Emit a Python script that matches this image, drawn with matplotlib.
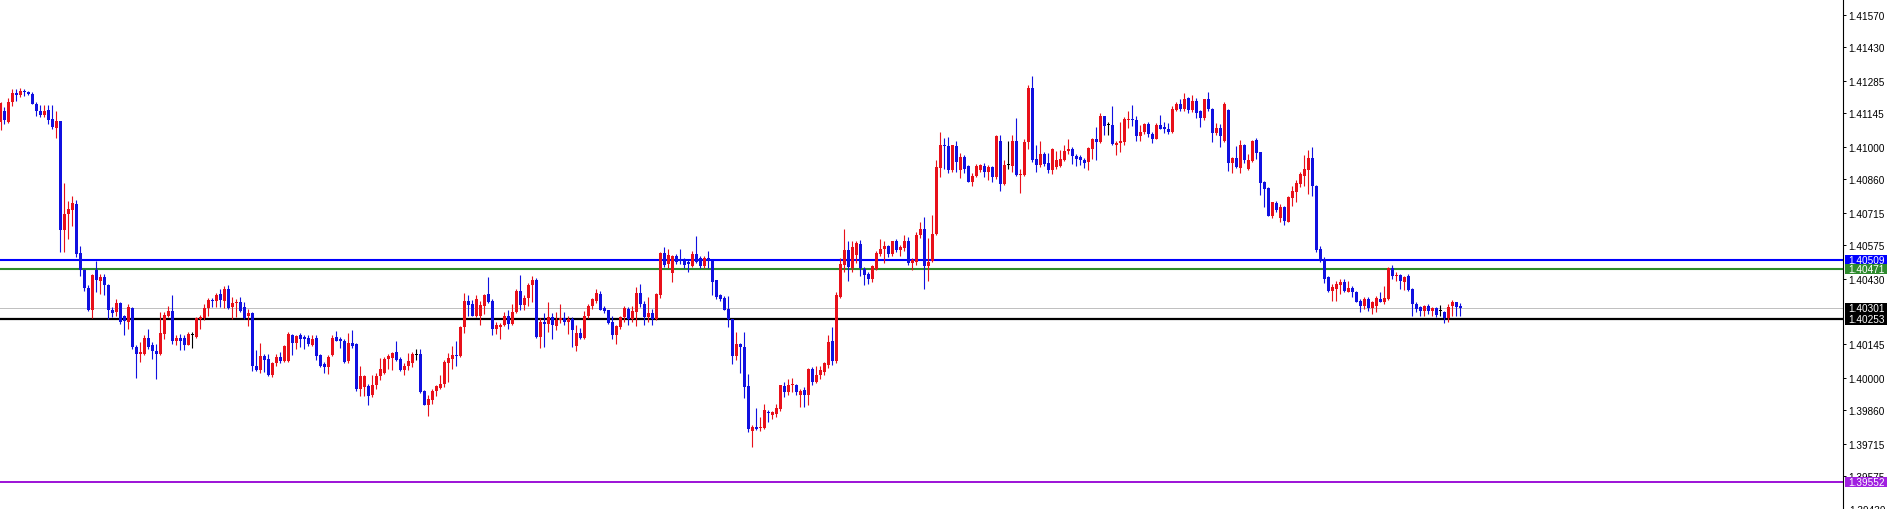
import numpy as np
import matplotlib
matplotlib.use("Agg")
import matplotlib.pyplot as plt
from matplotlib.patches import Rectangle
from matplotlib.transforms import blended_transform_factory

plt.rcParams['font.family'] = ['Liberation Sans', 'DejaVu Sans']

# candles, prices in points (1e-5)
opens_pts = [
    141106, 141156, 141108, 141192, 141232, 141221, 141240, 141235, 141228, 141185,
    141156, 141137, 141159, 141120, 141080, 141110, 140638, 140707, 140728, 140753,
    140541, 140465, 140388, 140292, 140465, 140419, 140436, 140403, 140296, 140285,
    140324, 140270, 140242, 140304, 140134, 140102, 140105, 140172, 140141, 140116,
    140105, 140191, 140270, 140289, 140158, 140174, 140174, 140144, 140184, 140177,
    140253, 140259, 140302, 140339, 140332, 140361, 140335, 140386, 140306, 140324,
    140328, 140306, 140268, 140280, 140054, 140033, 140095, 140083, 140011, 140064,
    140090, 140072, 140072, 140187, 140152, 140187, 140177, 140172, 140144, 140172,
    140098, 140059, 140047, 140100, 140177, 140167, 140162, 140072, 140152, 140148,
    139954, 139961, 139965, 139925, 139971, 140008, 140023, 140083, 140086, 140112,
    140083, 140033, 140052, 140066, 140100, 140105, 139946, 139884, 139903, 139942,
    139958, 139975, 140066, 140083, 140100, 140095, 140220, 140335, 140321, 140270,
    140270, 140311, 140364, 140331, 140213, 140221, 140230, 140270, 140234, 140285,
    140374, 140314, 140345, 140400, 140422, 140177, 140244, 140234, 140263, 140224,
    140249, 140259, 140242, 140256, 140137, 140196, 140173, 140268, 140311, 140331,
    140364, 140302, 140292, 140242, 140184, 140221, 140263, 140299, 140256, 140285,
    140368, 140321, 140263, 140282, 140256, 140360, 140541, 140494, 140455, 140527,
    140515, 140504, 140501, 140484, 140537, 140518, 140484, 140518, 140504, 140422,
    140357, 140345, 140299, 140253, 140095, 140148, 140133, 139965, 139773, 139788,
    139783, 139783, 139855, 139841, 139845, 139867, 139965, 139939, 139968, 139971,
    139927, 139950, 139927, 140040, 139985, 140014, 140025, 140057, 140162, 140072,
    140350, 140489, 140555, 140475, 140532, 140580, 140472, 140450, 140429, 140472,
    140537, 140558, 140570, 140537, 140590, 140555, 140561, 140590, 140498, 140501,
    140616, 140645, 140483, 140504, 140623, 140907, 141008, 141002, 140897, 141002,
    140897, 140954, 140915, 140849, 140872, 140897, 140918, 140892, 140911, 140868,
    141026, 140839, 140921, 140918, 141026, 140878, 140878, 141022, 141254, 140947,
    140921, 140969, 140930, 140901, 140911, 140915, 140944, 140979, 140990, 140959,
    140954, 140944, 140933, 140990, 141031, 141019, 141131, 141094, 141094, 141008,
    141016, 141022, 141113, 141120, 141117, 141045, 141062, 141098, 141055, 141034,
    141094, 141084, 141077, 141065, 141160, 141185, 141163, 141209, 141160, 141199,
    141152, 141123, 141206, 141163, 141060, 141080, 141026, 141160, 140929, 140949,
    140906, 141007, 140903, 140939, 141030, 140975, 140846, 140820, 140702, 140756,
    140690, 140738, 140676, 140777, 140805, 140838, 140874, 140900, 140949, 140831,
    140558, 140514, 140435, 140378, 140385, 140402, 140417, 140373, 140388, 140373,
    140334, 140310, 140342, 140301, 140313, 140342, 140330, 140342, 140474, 140440,
    140445, 140417, 140440, 140385, 140320, 140306, 140291, 140313, 140291, 140301,
    140291, 140284, 140258, 140313, 140327, 140313,
]
highs_pts = [
    141192, 141170, 141209, 141247, 141247, 141252, 141250, 141242, 141235, 141192,
    141178, 141178, 141180, 141178, 141153, 141112, 140844, 140763, 140786, 140771,
    140570, 140472, 140400, 140450, 140504, 140450, 140450, 140405, 140306, 140342,
    140328, 140273, 140321, 140309, 140144, 140155, 140184, 140213, 140155, 140148,
    140285, 140285, 140311, 140357, 140187, 140190, 140188, 140198, 140198, 140263,
    140273, 140321, 140345, 140345, 140368, 140383, 140397, 140400, 140350, 140342,
    140350, 140328, 140299, 140285, 140119, 140152, 140105, 140105, 140069, 140105,
    140112, 140141, 140198, 140191, 140184, 140196, 140187, 140187, 140187, 140187,
    140105, 140069, 140100, 140184, 140203, 140177, 140170, 140196, 140206, 140152,
    140052, 140014, 139975, 140011, 140023, 140086, 140090, 140105, 140112, 140158,
    140090, 140066, 140109, 140112, 140124, 140124, 139948, 139928, 139951, 139971,
    140011, 140076, 140109, 140138, 140162, 140224, 140368, 140360, 140339, 140360,
    140331, 140364, 140436, 140340, 140242, 140239, 140285, 140292, 140321, 140383,
    140446, 140360, 140412, 140440, 140432, 140259, 140282, 140328, 140282, 140285,
    140321, 140285, 140268, 140263, 140227, 140216, 140288, 140321, 140345, 140383,
    140374, 140311, 140296, 140270, 140230, 140270, 140311, 140306, 140311, 140393,
    140407, 140331, 140350, 140299, 140368, 140544, 140566, 140556, 140530, 140537,
    140556, 140518, 140508, 140547, 140613, 140527, 140527, 140547, 140508, 140422,
    140364, 140354, 140354, 140256, 140198, 140152, 140198, 140018, 139795, 139870,
    139831, 139889, 139860, 139856, 139889, 139971, 139982, 139994, 140000, 139975,
    139953, 139960, 140043, 140047, 140054, 140051, 140071, 140187, 140220, 140371,
    140518, 140645, 140590, 140590, 140590, 140598, 140479, 140457, 140489, 140547,
    140601, 140590, 140575, 140594, 140601, 140573, 140616, 140609, 140518, 140633,
    140676, 140695, 140604, 140705, 140940, 141065, 141036, 141041, 141008, 141026,
    140973, 140964, 140921, 140887, 140925, 140926, 140930, 140921, 140918, 141048,
    141048, 140944, 141026, 141048, 141123, 140904, 141034, 141267, 141304, 141005,
    141026, 140976, 140973, 140993, 140983, 140987, 141005, 141034, 140998, 140969,
    140964, 140950, 140998, 141036, 141084, 141146, 141134, 141106, 141175, 141026,
    141106, 141127, 141156, 141180, 141134, 141094, 141103, 141108, 141065, 141103,
    141137, 141108, 141103, 141175, 141192, 141204, 141232, 141214, 141224, 141209,
    141160, 141206, 141238, 141166, 141103, 141098, 141192, 141162, 140954, 141004,
    141030, 141011, 140968, 141030, 141036, 140978, 140853, 140824, 140762, 140766,
    140752, 140742, 140788, 140831, 140857, 140889, 140964, 140987, 140997, 140834,
    140572, 140522, 140442, 140406, 140421, 140428, 140428, 140421, 140399, 140378,
    140342, 140349, 140349, 140334, 140356, 140373, 140399, 140478, 140488, 140457,
    140450, 140442, 140450, 140388, 140327, 140313, 140316, 140320, 140306, 140306,
    140316, 140291, 140320, 140339, 140330, 140324,
]
lows_pts = [
    141070, 141098, 141104, 141175, 141199, 141214, 141218, 141221, 141183, 141134,
    141127, 141127, 141098, 141077, 141036, 140544, 140544, 140599, 140659, 140522,
    140440, 140374, 140288, 140259, 140371, 140364, 140357, 140253, 140263, 140268,
    140234, 140187, 140213, 140126, 140000, 140069, 140100, 140126, 140083, 139997,
    140100, 140170, 140263, 140148, 140141, 140119, 140122, 140141, 140129, 140173,
    140213, 140249, 140270, 140306, 140306, 140309, 140302, 140299, 140253, 140263,
    140285, 140253, 140224, 140029, 140029, 140023, 140026, 140008, 140004, 140054,
    140066, 140069, 140069, 140100, 140124, 140134, 140126, 140138, 140138, 140080,
    140047, 140023, 140018, 140095, 140158, 140129, 140066, 140066, 140129, 139946,
    139922, 139922, 139884, 139918, 139951, 139990, 140018, 140037, 140033, 140072,
    140029, 140014, 140033, 140047, 140076, 139936, 139882, 139838, 139889, 139922,
    139954, 139961, 139982, 140040, 140054, 140092, 140196, 140268, 140268, 140263,
    140227, 140278, 140325, 140184, 140191, 140167, 140224, 140210, 140227, 140282,
    140292, 140292, 140311, 140328, 140174, 140129, 140134, 140201, 140170, 140206,
    140239, 140227, 140191, 140134, 140115, 140167, 140170, 140259, 140299, 140325,
    140292, 140282, 140234, 140167, 140148, 140213, 140242, 140230, 140242, 140224,
    140306, 140230, 140242, 140227, 140249, 140345, 140479, 140475, 140414, 140494,
    140494, 140475, 140460, 140479, 140498, 140475, 140475, 140475, 140357, 140342,
    140335, 140292, 140220, 140062, 140076, 140022, 139913, 139766, 139701, 139775,
    139773, 139781, 139812, 139821, 139831, 139856, 139917, 139925, 139939, 139927,
    139874, 139874, 139884, 139971, 139979, 139997, 140014, 140043, 140057, 140066,
    140345, 140457, 140421, 140457, 140498, 140440, 140403, 140407, 140417, 140465,
    140529, 140498, 140522, 140529, 140544, 140529, 140551, 140489, 140465, 140489,
    140604, 140385, 140421, 140501, 140616, 140868, 140904, 140887, 140892, 140892,
    140863, 140887, 140846, 140829, 140868, 140890, 140868, 140854, 140849, 140861,
    140810, 140832, 140904, 140890, 140875, 140800, 140872, 140990, 140933, 140892,
    140911, 140918, 140887, 140882, 140904, 140911, 140936, 140969, 140926, 140916,
    140921, 140907, 140901, 140947, 140940, 141016, 141051, 141048, 141008, 140962,
    140976, 141005, 141080, 141088, 141026, 141026, 141055, 141041, 141016, 141031,
    141074, 141060, 141055, 141060, 141152, 141152, 141156, 141146, 141149, 141123,
    141084, 141117, 141156, 141022, 141048, 141000, 141022, 140896, 140886, 140906,
    140886, 140929, 140900, 140932, 140946, 140791, 140738, 140699, 140690, 140719,
    140673, 140661, 140673, 140745, 140759, 140824, 140831, 140795, 140785, 140543,
    140503, 140411, 140370, 140334, 140334, 140363, 140370, 140370, 140349, 140327,
    140284, 140298, 140291, 140277, 140287, 140327, 140320, 140339, 140428, 140421,
    140385, 140382, 140378, 140270, 140284, 140267, 140270, 140277, 140270, 140263,
    140270, 140238, 140244, 140267, 140267, 140267,
]
closes_pts = [
    141188, 141113, 141192, 141231, 141221, 141240, 141235, 141228, 141185, 141152,
    141137, 141156, 141116, 141084, 141110, 140640, 140710, 140731, 140757, 140537,
    140465, 140388, 140292, 140446, 140422, 140436, 140400, 140292, 140282, 140324,
    140242, 140246, 140306, 140134, 140105, 140112, 140172, 140136, 140115, 140105,
    140196, 140273, 140289, 140158, 140175, 140162, 140144, 140190, 140184, 140259,
    140263, 140302, 140339, 140332, 140357, 140338, 140386, 140302, 140324, 140328,
    140288, 140259, 140280, 140050, 140033, 140095, 140080, 140011, 140066, 140090,
    140072, 140138, 140191, 140152, 140181, 140170, 140167, 140148, 140167, 140095,
    140054, 140047, 140090, 140172, 140162, 140158, 140069, 140152, 140138, 139951,
    140008, 140008, 139922, 139971, 140008, 140037, 140083, 140095, 140109, 140080,
    140033, 140054, 140072, 140105, 140100, 139939, 139884, 139908, 139942, 139965,
    139975, 140069, 140086, 140100, 140095, 140220, 140332, 140316, 140270, 140342,
    140314, 140360, 140328, 140213, 140227, 140230, 140270, 140234, 140285, 140374,
    140314, 140345, 140403, 140422, 140177, 140244, 140234, 140263, 140230, 140249,
    140259, 140244, 140256, 140206, 140196, 140173, 140268, 140311, 140340, 140368,
    140296, 140288, 140239, 140184, 140224, 140263, 140302, 140256, 140288, 140368,
    140321, 140263, 140282, 140256, 140364, 140541, 140489, 140532, 140527, 140501,
    140504, 140489, 140494, 140537, 140501, 140484, 140518, 140508, 140417, 140350,
    140340, 140296, 140256, 140095, 140148, 140133, 139961, 139778, 139788, 139778,
    139788, 139864, 139850, 139853, 139870, 139968, 139939, 139971, 139975, 139939,
    139946, 139927, 140037, 139985, 140014, 140033, 140066, 140155, 140072, 140357,
    140493, 140555, 140479, 140565, 140584, 140475, 140446, 140426, 140483, 140541,
    140558, 140570, 140537, 140590, 140555, 140565, 140590, 140498, 140508, 140619,
    140645, 140486, 140501, 140623, 140911, 141008, 141002, 140901, 141005, 140933,
    140954, 140904, 140849, 140875, 140915, 140921, 140892, 140911, 140868, 141045,
    140839, 140921, 140921, 141026, 140878, 140882, 141022, 141254, 140944, 140921,
    140969, 140926, 140901, 140990, 140944, 140947, 140983, 140990, 140959, 140947,
    140940, 140930, 140993, 141034, 141022, 141134, 141091, 141094, 141012, 141016,
    141026, 141120, 141120, 141113, 141045, 141065, 141098, 141055, 141034, 141094,
    141077, 141074, 141062, 141163, 141185, 141163, 141206, 141160, 141199, 141146,
    141123, 141204, 141163, 141060, 141080, 141045, 141185, 140929, 140949, 140910,
    141007, 140944, 140944, 141026, 140972, 140843, 140817, 140702, 140759, 140728,
    140738, 140680, 140781, 140810, 140843, 140882, 140903, 140949, 140828, 140555,
    140507, 140428, 140378, 140392, 140406, 140417, 140378, 140388, 140370, 140330,
    140313, 140342, 140301, 140330, 140344, 140330, 140344, 140474, 140440, 140445,
    140421, 140435, 140382, 140320, 140298, 140291, 140313, 140291, 140301, 140273,
    140291, 140258, 140306, 140330, 140306, 140301,
]

tick_prices = [1.41570, 1.41430, 1.41285, 1.41145, 1.41000, 1.40860, 1.40715,
               1.40575, 1.40430, 1.40145, 1.40000, 1.39860, 1.39715, 1.39575]
bottom_tick = 1.39430

level_prices = [1.40509, 1.40471, 1.40301, 1.40253, 1.39552]
level_colors = ["#0000ff", "#2e8b2e", "#c0c0c0", "#000000", "#9400d3"]
level_lw = [1.5, 1.5, 0.72, 1.6, 1.3]
label_bg = ["#0000ff", "#2e8b2e", "#000000", "#000000", "#a020e0"]

o = np.array(opens_pts) / 1e5
h = np.array(highs_pts) / 1e5
l = np.array(lows_pts) / 1e5
c = np.array(closes_pts) / 1e5
x = np.arange(len(o))

up_col = "#e8101a"
dn_col = "#1010e0"
cols = np.where(c > o, up_col, np.where(c < o, dn_col, "#000000"))

W, H = 1890, 510
plot_w = 1843
fig = plt.figure(figsize=(W / 100, H / 100), dpi=100)
ax = fig.add_axes([0, 0, plot_w / W, 1])
ax.set_xlim(-0.125, plot_w / 4 - 0.125)
y_top, y_bot = 1.416378, 1.394341
ax.set_ylim(y_bot, y_top)
px = (y_top - y_bot) / H  # price per pixel

# levels
for p, col, lw in zip(level_prices, level_colors, level_lw):
    ax.axhline(p, color=col, lw=lw, zorder=1)

# wicks and bodies
ax.vlines(x, l, h, colors=cols, lw=0.8, zorder=2)
body = np.maximum(np.abs(c - o), px)
ax.bar(x, body, bottom=np.minimum(o, c), width=0.75, color=cols, lw=0, zorder=3)

# axis on the right
for s in ["left", "top", "bottom"]:
    ax.spines[s].set_visible(False)
ax.spines["right"].set_linewidth(0.8)
ax.set_xticks([])
ax.yaxis.tick_right()
ax.set_yticks(tick_prices)
ax.set_yticklabels(["%.5f" % t for t in tick_prices])
ax.tick_params(axis="y", direction="out", length=2.4, width=0.7, pad=1.5,
               labelsize=7.2, colors="black")

tr = blended_transform_factory(ax.transAxes, ax.transData)
ax.text(1 + 6 / plot_w, bottom_tick, "%.5f" % bottom_tick, transform=tr,
        fontsize=7.2, va="center", ha="left", clip_on=False)

# price labels
for p, bg in zip(level_prices, label_bg):
    ax.add_patch(Rectangle((1 + 2 / plot_w, p - 5.2 * px), 42 / plot_w, 10.4 * px,
                           transform=tr, facecolor=bg, edgecolor="none",
                           clip_on=False, zorder=5))
    ax.text(1 + 5 / plot_w, p, "%.5f" % p, transform=tr, color="white",
            fontsize=7.2, va="center", ha="left", clip_on=False, zorder=6)

fig.savefig("out.png", dpi=100, facecolor="white")
